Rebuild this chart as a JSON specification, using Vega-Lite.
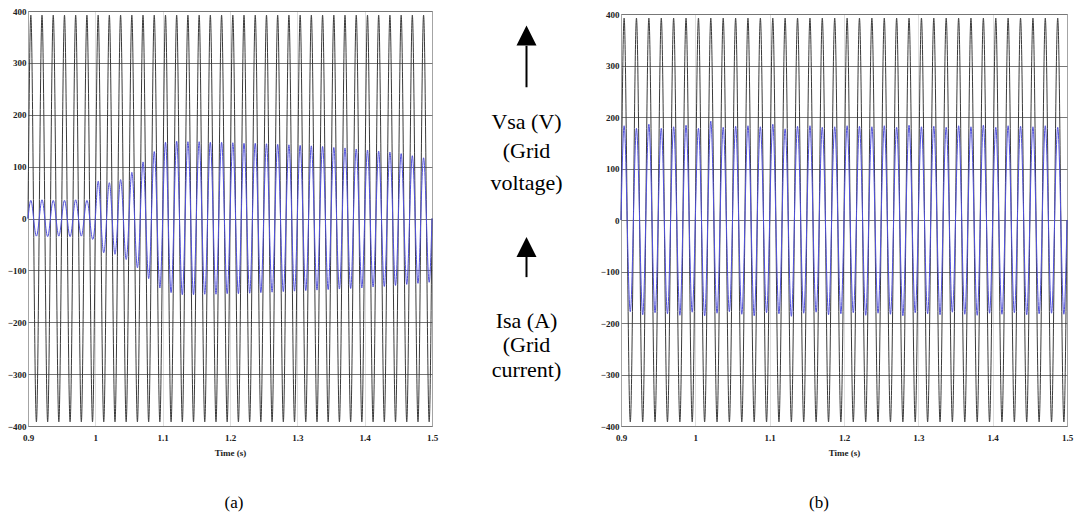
{
"$schema": "https://vega.github.io/schema/vega-lite/v6.json",
"padding": {"left": 6, "top": 6, "right": 0, "bottom": 0},
"background": "white",
"config": {
 "view": {"stroke": "#8c8c8c", "strokeWidth": 1},
 "font": "'Liberation Serif', 'Times New Roman', Times, serif",
 "axis": {"labelFont": "'Liberation Serif', 'Times New Roman', Times, serif", "labelFontSize": 9, "labelFontWeight": "bold", "labelColor": "#222", "titleFont": "'Liberation Serif', 'Times New Roman', Times, serif", "titleFontSize": 9, "titleFontWeight": "bold", "titleColor": "#222", "ticks": false, "domain": false, "labelFlush": false, "labelOverlap": false}
},
"data": {"values": [
{"t":0.9,"v":0,"a":0,"b":0},{"t":0.9042,"v":392,"a":35,"b":183},{"t":0.9083,"v":0,"a":0,"b":0},{"t":0.9125,"v":-392,"a":-34,"b":-178},
{"t":0.9167,"v":0,"a":0,"b":0},{"t":0.9208,"v":392,"a":36,"b":178},{"t":0.925,"v":0,"a":0,"b":0},{"t":0.9292,"v":-392,"a":-35,"b":-184},
{"t":0.9333,"v":0,"a":0,"b":0},{"t":0.9375,"v":392,"a":35,"b":186},{"t":0.9417,"v":0,"a":0,"b":0},{"t":0.9458,"v":-392,"a":-34,"b":-180},
{"t":0.95,"v":0,"a":0,"b":0},{"t":0.9542,"v":392,"a":35,"b":178},{"t":0.9583,"v":0,"a":0,"b":0},{"t":0.9625,"v":-392,"a":-35,"b":-182},
{"t":0.9667,"v":0,"a":0,"b":0},{"t":0.9708,"v":392,"a":36,"b":181},{"t":0.975,"v":0,"a":0,"b":0},{"t":0.9792,"v":-392,"a":-34,"b":-185},
{"t":0.9833,"v":0,"a":0,"b":0},{"t":0.9875,"v":392,"a":35,"b":184},{"t":0.9917,"v":0,"a":0,"b":0},{"t":0.9958,"v":-392,"a":-40,"b":-179},
{"t":1.0,"v":0,"a":0,"b":0},{"t":1.0042,"v":392,"a":72,"b":178},{"t":1.0083,"v":0,"a":0,"b":0},{"t":1.0125,"v":-392,"a":-66,"b":-186},
{"t":1.0167,"v":0,"a":0,"b":0},{"t":1.0208,"v":392,"a":69,"b":192},{"t":1.025,"v":0,"a":0,"b":0},{"t":1.0292,"v":-392,"a":-69,"b":-181},
{"t":1.0333,"v":0,"a":0,"b":0},{"t":1.0375,"v":392,"a":75,"b":180},{"t":1.0417,"v":0,"a":0,"b":0},{"t":1.0458,"v":-392,"a":-79,"b":-178},
{"t":1.05,"v":0,"a":0,"b":0},{"t":1.0542,"v":392,"a":89,"b":182},{"t":1.0583,"v":0,"a":0,"b":0},{"t":1.0625,"v":-392,"a":-95,"b":-183},
{"t":1.0667,"v":0,"a":0,"b":0},{"t":1.0708,"v":392,"a":109,"b":183},{"t":1.075,"v":0,"a":0,"b":0},{"t":1.0792,"v":-392,"a":-116,"b":-186},
{"t":1.0833,"v":0,"a":0,"b":0},{"t":1.0875,"v":392,"a":129,"b":181},{"t":1.0917,"v":0,"a":0,"b":0},{"t":1.0958,"v":-392,"a":-134,"b":-180},
{"t":1.1,"v":0,"a":0,"b":0},{"t":1.1042,"v":392,"a":147,"b":186},{"t":1.1083,"v":0,"a":0,"b":0},{"t":1.1125,"v":-392,"a":-143,"b":-182},
{"t":1.1167,"v":0,"a":0,"b":0},{"t":1.1208,"v":392,"a":149,"b":177},{"t":1.125,"v":0,"a":0,"b":0},{"t":1.1292,"v":-392,"a":-147,"b":-187},
{"t":1.1333,"v":0,"a":0,"b":0},{"t":1.1375,"v":392,"a":148,"b":182},{"t":1.1417,"v":0,"a":0,"b":0},{"t":1.1458,"v":-392,"a":-147,"b":-181},
{"t":1.15,"v":0,"a":0,"b":0},{"t":1.1542,"v":392,"a":148,"b":183},{"t":1.1583,"v":0,"a":0,"b":0},{"t":1.1625,"v":-392,"a":-146,"b":-179},
{"t":1.1667,"v":0,"a":0,"b":0},{"t":1.1708,"v":392,"a":147,"b":180},{"t":1.175,"v":0,"a":0,"b":0},{"t":1.1792,"v":-392,"a":-146,"b":-184},
{"t":1.1833,"v":0,"a":0,"b":0},{"t":1.1875,"v":392,"a":147,"b":181},{"t":1.1917,"v":0,"a":0,"b":0},{"t":1.1958,"v":-392,"a":-145,"b":-182},
{"t":1.2,"v":0,"a":0,"b":0},{"t":1.2042,"v":392,"a":146,"b":183},{"t":1.2083,"v":0,"a":0,"b":0},{"t":1.2125,"v":-392,"a":-145,"b":-180},
{"t":1.2167,"v":0,"a":0,"b":0},{"t":1.2208,"v":392,"a":145,"b":182},{"t":1.225,"v":0,"a":0,"b":0},{"t":1.2292,"v":-392,"a":-144,"b":-185},
{"t":1.2333,"v":0,"a":0,"b":0},{"t":1.2375,"v":392,"a":145,"b":181},{"t":1.2417,"v":0,"a":0,"b":0},{"t":1.2458,"v":-392,"a":-143,"b":-181},
{"t":1.25,"v":0,"a":0,"b":0},{"t":1.2542,"v":392,"a":144,"b":183},{"t":1.2583,"v":0,"a":0,"b":0},{"t":1.2625,"v":-392,"a":-142,"b":-183},
{"t":1.2667,"v":0,"a":0,"b":0},{"t":1.2708,"v":392,"a":143,"b":180},{"t":1.275,"v":0,"a":0,"b":0},{"t":1.2792,"v":-392,"a":-141,"b":-186},
{"t":1.2833,"v":0,"a":0,"b":0},{"t":1.2875,"v":392,"a":142,"b":184},{"t":1.2917,"v":0,"a":0,"b":0},{"t":1.2958,"v":-392,"a":-140,"b":-180},
{"t":1.3,"v":0,"a":0,"b":0},{"t":1.3042,"v":392,"a":141,"b":181},{"t":1.3083,"v":0,"a":0,"b":0},{"t":1.3125,"v":-392,"a":-139,"b":-182},
{"t":1.3167,"v":0,"a":0,"b":0},{"t":1.3208,"v":392,"a":140,"b":182},{"t":1.325,"v":0,"a":0,"b":0},{"t":1.3292,"v":-392,"a":-138,"b":-184},
{"t":1.3333,"v":0,"a":0,"b":0},{"t":1.3375,"v":392,"a":139,"b":180},{"t":1.3417,"v":0,"a":0,"b":0},{"t":1.3458,"v":-392,"a":-137,"b":-179},
{"t":1.35,"v":0,"a":0,"b":0},{"t":1.3542,"v":392,"a":137,"b":183},{"t":1.3583,"v":0,"a":0,"b":0},{"t":1.3625,"v":-392,"a":-136,"b":-183},
{"t":1.3667,"v":0,"a":0,"b":0},{"t":1.3708,"v":392,"a":136,"b":181},{"t":1.375,"v":0,"a":0,"b":0},{"t":1.3792,"v":-392,"a":-135,"b":-185},
{"t":1.3833,"v":0,"a":0,"b":0},{"t":1.3875,"v":392,"a":134,"b":184},{"t":1.3917,"v":0,"a":0,"b":0},{"t":1.3958,"v":-392,"a":-134,"b":-181},
{"t":1.4,"v":0,"a":0,"b":0},{"t":1.4042,"v":392,"a":132,"b":180},{"t":1.4083,"v":0,"a":0,"b":0},{"t":1.4125,"v":-392,"a":-132,"b":-183},
{"t":1.4167,"v":0,"a":0,"b":0},{"t":1.4208,"v":392,"a":130,"b":183},{"t":1.425,"v":0,"a":0,"b":0},{"t":1.4292,"v":-392,"a":-131,"b":-180},
{"t":1.4333,"v":0,"a":0,"b":0},{"t":1.4375,"v":392,"a":128,"b":182},{"t":1.4417,"v":0,"a":0,"b":0},{"t":1.4458,"v":-392,"a":-129,"b":-184},
{"t":1.45,"v":0,"a":0,"b":0},{"t":1.4542,"v":392,"a":125,"b":181},{"t":1.4583,"v":0,"a":0,"b":0},{"t":1.4625,"v":-392,"a":-127,"b":-182},
{"t":1.4667,"v":0,"a":0,"b":0},{"t":1.4708,"v":392,"a":121,"b":183},{"t":1.475,"v":0,"a":0,"b":0},{"t":1.4792,"v":-392,"a":-125,"b":-181},
{"t":1.4833,"v":0,"a":0,"b":0},{"t":1.4875,"v":392,"a":117,"b":180},{"t":1.4917,"v":0,"a":0,"b":0},{"t":1.4958,"v":-392,"a":-123,"b":-183},
{"t":1.5,"v":0,"a":0,"b":0}
]},
"spacing": 5,
"bounds": "flush",
"hconcat": [
 {
  "width": 404, "height": 415,
  "title": {"text": "(a)", "orient": "bottom", "frame": "group", "font": "'Liberation Serif', 'Times New Roman', Times, serif", "fontSize": 17, "fontWeight": "normal", "color": "#000", "offset": 38, "dx": 4},
  "layer": [
   {"mark": {"type": "line", "interpolate": "natural", "color": "#3a3a3a", "strokeWidth": 1},
    "encoding": {
     "x": {"field": "t", "type": "quantitative", "scale": {"domain": [0.9, 1.5], "nice": false, "zero": false}, "axis": {"values": [0.9, 1, 1.1, 1.2, 1.3, 1.4, 1.5], "format": "~g", "title": "Time (s)", "gridColor": "#bdbdbd", "gridDash": [1, 1], "labelPadding": 7, "titlePadding": 6}},
     "y": {"field": "v", "type": "quantitative", "scale": {"domain": [-400, 400], "nice": false}, "axis": {"values": [-400, -300, -200, -100, 0, 100, 200, 300, 400], "format": "d", "title": null, "gridColor": "#777", "labelPadding": 2}}}},
   {"mark": {"type": "line", "interpolate": "natural", "color": "#5050dc", "strokeWidth": 1},
    "encoding": {"x": {"field": "t", "type": "quantitative"}, "y": {"field": "a", "type": "quantitative", "title": null}}}
  ]
 },
 {
  "width": 179, "height": 415,
  "view": {"stroke": null},
  "layer": [
   {"data": {"values": [
     {"x": 0.5, "y": 172, "txt": "Vsa (V)"},
     {"x": 0.5, "y": 117, "txt": "(Grid"},
     {"x": 0.5, "y": 55, "txt": "voltage)"},
     {"x": 0.5, "y": -211, "txt": "Isa (A)"},
     {"x": 0.5, "y": -258, "txt": "(Grid"},
     {"x": 0.5, "y": -305, "txt": "current)"}
    ]},
    "mark": {"type": "text", "font": "'Liberation Serif', 'Times New Roman', Times, serif", "fontSize": 22, "baseline": "alphabetic", "align": "center", "color": "#000"},
    "encoding": {
     "x": {"field": "x", "type": "quantitative", "scale": {"domain": [0, 1]}, "axis": null},
     "y": {"field": "y", "type": "quantitative", "scale": {"domain": [-400, 400], "nice": false}, "axis": null},
     "text": {"field": "txt"}}},
   {"data": {"values": [
     {"x": 0.5, "y": 333, "y2": 253},
     {"x": 0.5, "y": -74, "y2": -113}
    ]},
    "mark": {"type": "rule", "color": "#000", "strokeWidth": 2},
    "encoding": {
     "x": {"field": "x", "type": "quantitative"},
     "y": {"field": "y", "type": "quantitative"},
     "y2": {"field": "y2"}}},
   {"data": {"values": [
     {"x": 0.5, "y": 353},
     {"x": 0.5, "y": -55}
    ]},
    "mark": {"type": "point", "shape": "M-1,1L0,-1L1,1Z", "size": 400, "filled": true, "color": "#000", "opacity": 1, "strokeWidth": 0},
    "encoding": {
     "x": {"field": "x", "type": "quantitative"},
     "y": {"field": "y", "type": "quantitative"}}}
  ]
 },
 {
  "spacing": 0,
  "bounds": "flush",
  "vconcat": [
   {"width": 446, "height": 3, "view": {"stroke": null}, "data": {"values": [{"k": 1}]}, "mark": {"type": "text"}, "encoding": {"text": {"value": ""}}},
   {
    "width": 446, "height": 412,
    "title": {"text": "(b)", "orient": "bottom", "frame": "group", "font": "'Liberation Serif', 'Times New Roman', Times, serif", "fontSize": 17, "fontWeight": "normal", "color": "#000", "offset": 38, "dx": -25},
    "layer": [
     {"mark": {"type": "line", "interpolate": "natural", "color": "#3a3a3a", "strokeWidth": 1},
      "encoding": {
       "x": {"field": "t", "type": "quantitative", "scale": {"domain": [0.9, 1.5], "nice": false, "zero": false}, "axis": {"values": [0.9, 1, 1.1, 1.2, 1.3, 1.4, 1.5], "format": "~g", "title": "Time (s)", "gridColor": "#bdbdbd", "gridDash": [1, 1], "labelPadding": 7, "titlePadding": 6}},
       "y": {"field": "v", "type": "quantitative", "scale": {"domain": [-400, 400], "nice": false}, "axis": {"values": [-400, -300, -200, -100, 0, 100, 200, 300, 400], "format": "d", "title": null, "gridColor": "#777", "labelPadding": 2}}}},
     {"mark": {"type": "line", "interpolate": "natural", "color": "#5050dc", "strokeWidth": 1},
      "encoding": {"x": {"field": "t", "type": "quantitative"}, "y": {"field": "b", "type": "quantitative", "title": null}}}
    ]
   }
  ]
 }
]
}
